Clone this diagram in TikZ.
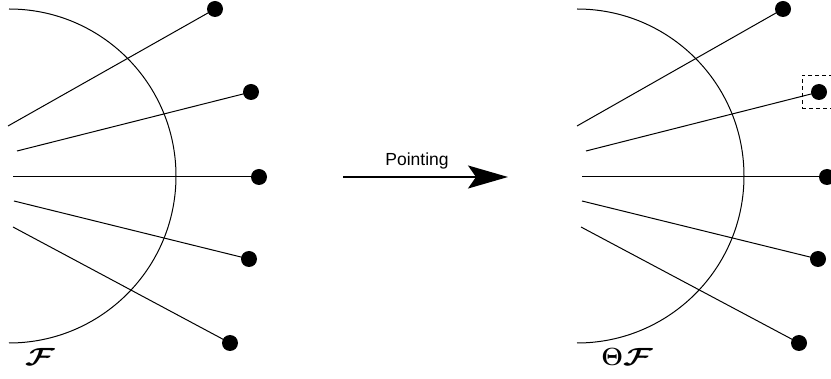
\documentclass[tikz,border=0pt]{standalone}
\usepackage{fontspec}
\setsansfont{Liberation Sans}
\usetikzlibrary{arrows.meta}
\newcommand{\wideF}{\scalebox{1.3}[1]{$\mathcal{F}$}}
\tikzset{
  ray/.style={line width=1pt, black},
  shell/.style={line width=1pt, black},
  endpt/.style={circle, fill=black, inner sep=0pt, minimum size=16pt},
  selbox/.style={draw, dashed, line width=1pt, dash pattern=on 4pt off 3pt, inner sep=0pt, minimum width=34pt, minimum height=33pt},
  flow/.style={line width=2pt, -{Stealth[length=40pt, width=23pt, inset=8pt]}},
  setlabel/.style={font=\fontsize{23}{25}\selectfont\boldmath, inner sep=0pt}
}
\begin{document}
\begin{tikzpicture}[x=1pt, y=-1pt]
  \useasboundingbox (0,0) rectangle (831,379);
  \clip (0,0) rectangle (831,379);

  % left configuration
  \draw[shell] (9,9) arc[start angle=-90, end angle=90, radius=167];
  \node[endpt] (l1) at (215,9) {};
  \node[endpt] (l2) at (251,92) {};
  \node[endpt] (l3) at (259,177) {};
  \node[endpt] (l4) at (249,259) {};
  \node[endpt] (l5) at (230,343) {};
  \coordinate (ls1) at (8,126);
  \coordinate (ls2) at (17,151);
  \coordinate (ls3) at (13,177);
  \coordinate (ls4) at (14,201);
  \coordinate (ls5) at (13,227);
  \foreach \i in {1,...,5} \draw[ray] (ls\i) -- (l\i.center);
  \node[setlabel] (lf) at (40,357) {\wideF};

  % transformation arrow
  \coordinate (a1) at (343,177);
  \coordinate (a2) at (508,177);
  \draw[flow] (a1) -- (a2);
  \node[font=\sffamily\fontsize{17.5}{20}\selectfont, anchor=base, inner sep=0pt] (pt) at (417,166) {Pointing};

  % right configuration
  \draw[shell] (577,9) arc[start angle=-90, end angle=90, radius=167];
  \node[endpt] (r1) at (783,9) {};
  \node[endpt] (r2) at (819,92) {};
  \node[endpt] (r3) at (827,177) {};
  \node[endpt] (r4) at (818,259) {};
  \node[endpt] (r5) at (799,343) {};
  \coordinate (rs1) at (577,126);
  \coordinate (rs2) at (586,151);
  \coordinate (rs3) at (582,177);
  \coordinate (rs4) at (582,201);
  \coordinate (rs5) at (581,227);
  \foreach \i in {1,...,5} \draw[ray] (rs\i) -- (r\i.center);
  \node[selbox] (sel) at (r2) {};
  \node[setlabel] (rf) at (627,357) {$\Theta$\wideF};
\end{tikzpicture}
\end{document}
